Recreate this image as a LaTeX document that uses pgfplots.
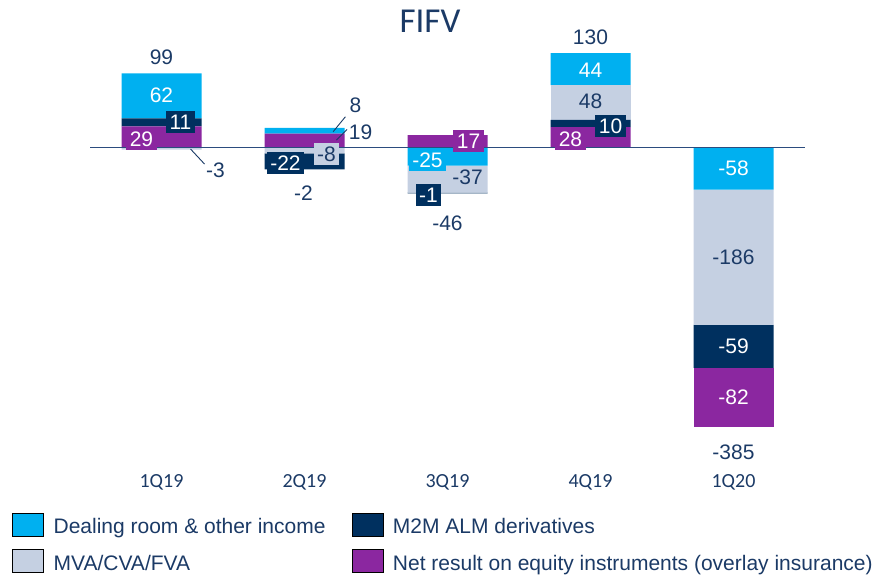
\documentclass[border=0pt]{standalone}
\usepackage{pgfplots}
\pgfplotsset{compat=1.18}
\usepackage{pgfplotstable}
\usepackage{fontspec}
\setmainfont{Liberation Sans}
\newfontfamily\carlito{Carlito}

\definecolor{dealing}{HTML}{00B0F0}
\definecolor{mtm}{HTML}{00305F}
\definecolor{mva}{HTML}{C5D0E2}
\definecolor{netres}{HTML}{8B27A0}
\definecolor{txtnavy}{HTML}{1B3A66}
\definecolor{zeroline}{HTML}{2B4C7E}

% quarter, then the four components
\pgfplotstableread{
q dealing mtm mva net
0 62 11 -3 29
1 8 -22 -8 19
2 -25 -1 -37 17
3 44 10 48 28
4 -58 -59 -186 -82
}\fifv

\pgfplotsset{
  base/.style={
    scale only axis, width=715pt, height=442pt,
    at={(90pt,-480.5pt)}, anchor=south west,
    xmin=-0.5, xmax=4.5, ymin=-458, ymax=150,
    axis line style={draw=none}, major tick length=0pt,
    ytick=\empty, xtick=\empty, clip=false,
  },
  bars/.style={base, ybar stacked, bar width=80pt},
  pos/.style={y filter/.code={\pgfmathparse{max(\pgfmathresult,0)}}},
  neg/.style={y filter/.code={\pgfmathparse{min(\pgfmathresult,0)}}},
  sqleg/.style={legend image code/.code={\fill[##1] (0pt,-9pt) rectangle (31pt,14pt);}},
}
\tikzset{
  lab/.style={font=\fontsize{21}{25}\selectfont, inner sep=0pt},
  ln/.style={lab, text=txtnavy},
  lw/.style={lab, text=white},
  bx/.style={lab, inner sep=3.5pt, text=white},
  leader/.style={draw=txtnavy, line width=0.9pt},
}

\begin{document}
\begin{tikzpicture}
\useasboundingbox (0,0) rectangle (885pt,-574pt);

% positive parts, stacked up from zero
\begin{axis}[bars]
\addplot[fill=netres, draw=none, pos] table[x=q, y=net] {\fifv};
\addplot[fill=mtm, draw=none, pos] table[x=q, y=mtm] {\fifv};
\addplot[fill=mva, draw=none, pos] table[x=q, y=mva] {\fifv};
\addplot[fill=dealing, draw=none, pos] table[x=q, y=dealing] {\fifv};
\end{axis}

% negative parts, stacked down from zero
\begin{axis}[bars]
\addplot[fill=dealing, draw=none, neg] table[x=q, y=dealing] {\fifv};
\addplot[fill=mva, draw=none, neg] table[x=q, y=mva] {\fifv};
\addplot[fill=mtm, draw=none, neg] table[x=q, y=mtm] {\fifv};
\addplot[fill=netres, draw=none, neg] table[x=q, y=net] {\fifv};
\end{axis}

% zero line, labels, legend
\begin{axis}[base,
  xtick={0,1,2,3,4},
  xticklabels={1Q19,2Q19,3Q19,4Q19,1Q20},
  xticklabel style={anchor=center, yshift=-2pt, font=\carlito\fontsize{20}{24}\selectfont, text=txtnavy},
  legend style={at={(axis description cs:-0.1091,-0.0724)}, anchor=north west,
    draw=none, fill=none, inner sep=0pt, legend columns=2,
    font=\fontsize{21}{25}\selectfont, text=txtnavy, row sep=13pt,
    nodes={inner sep=0pt},
    /tikz/every odd column/.append style={column sep=10pt},
    /tikz/every even column/.append style={column sep=26pt}},
  legend cell align=left,
]
\addlegendimage{sqleg, fill=dealing}
\addlegendentry{Dealing room \& other income}
\addlegendimage{sqleg, fill=mtm}
\addlegendentry{M2M ALM derivatives}
\addlegendimage{sqleg, fill=mva}
\addlegendentry{MVA/CVA/FVA}
\addlegendimage{sqleg, fill=netres}
\addlegendentry{Net result on equity instruments (overlay insurance)}

\draw[zeroline, line width=1.8pt] (axis cs:-0.5,0) -- (axis cs:4.5,0);

% 1Q19
\node[ln] at (axis cs:0,124.5) {99};
\node[lw] at (axis cs:0,72) {62};
\node[bx, fill=mtm] at (axis cs:0.133,35) {11};
\node[bx, fill=netres] at (axis cs:-0.14,11.7) {29};
\draw[leader] (axis cs:0.203,-2) -- (axis cs:0.301,-22.7);
\node[ln] at (axis cs:0.378,-31) {-3};
% 2Q19
\node[ln] at (axis cs:1.357,58.5) {8};
\node[ln] at (axis cs:1.392,21.3) {19};
\draw[leader] (axis cs:1.20,21.7) -- (axis cs:1.286,42.4);
\draw[leader] (axis cs:1.224,10.3) -- (axis cs:1.298,25);
\node[bx, fill=mtm] at (axis cs:0.867,-21.3) {-22};
\node[bx, fill=mva, text=txtnavy] at (axis cs:1.154,-8.9) {-8};
\node[ln] at (axis cs:0.993,-62.6) {-2};
% 3Q19
\node[bx, fill=netres] at (axis cs:2.147,8.9) {17};
\node[bx, fill=dealing] at (axis cs:1.86,-17.2) {-25};
\node[ln] at (axis cs:2.14,-40.5) {-37};
\node[bx, fill=mtm] at (axis cs:1.867,-65) {-1};
\node[ln] at (axis cs:2,-103.9) {-46};
% 4Q19
\node[ln] at (axis cs:3,152) {130};
\node[lw] at (axis cs:3,106) {44};
\node[ln] at (axis cs:3,63) {48};
\node[bx, fill=mtm] at (axis cs:3.14,29.6) {10};
\node[bx, fill=netres] at (axis cs:2.86,11.7) {28};
% 1Q20
\node[lw] at (axis cs:4,-29) {-58};
\node[ln] at (axis cs:4,-151) {-186};
\node[lw] at (axis cs:4,-273.5) {-59};
\node[lw] at (axis cs:4,-344) {-82};
\node[ln] at (axis cs:4,-419) {-385};
\end{axis}

\node[font=\carlito\fontsize{35}{40}\selectfont, text=txtnavy, anchor=base] at (430pt,-32pt) {FIFV};
\end{tikzpicture}
\end{document}
